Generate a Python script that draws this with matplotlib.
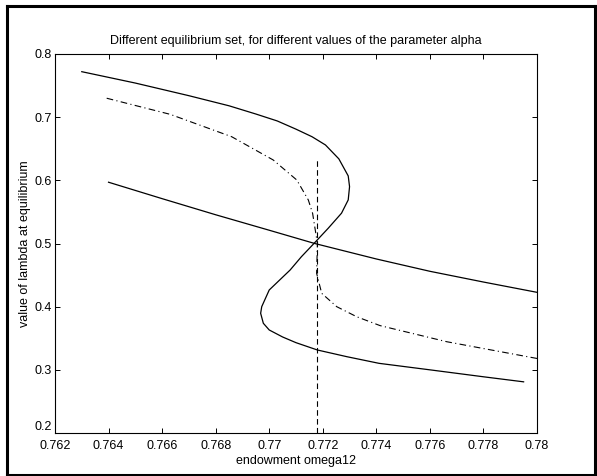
import numpy as np
import matplotlib
matplotlib.use("Agg")
import matplotlib.pyplot as plt
from matplotlib.lines import Line2D

plt.rcParams['font.family'] = ['Liberation Sans', 'DejaVu Sans']

# S-shaped equilibrium set (solid)
s_omega = [0.7630, 0.7650, 0.7670, 0.7685, 0.7695, 0.7703, 0.7710, 0.7716, 0.7721,
           0.7726, 0.77295, 0.7730, 0.77295, 0.7727, 0.7722, 0.77167, 0.7712,
           0.77078, 0.7700, 0.76972, 0.76968, 0.76978, 0.7700, 0.7705, 0.7710,
           0.7718, 0.7729, 0.7741, 0.7760, 0.7780, 0.7795]
s_lambda = [0.772, 0.754, 0.734, 0.718, 0.705, 0.694, 0.681, 0.669, 0.656,
            0.634, 0.607, 0.590, 0.569, 0.548, 0.524, 0.500, 0.479,
            0.458, 0.4264, 0.400, 0.3895, 0.3737, 0.3631, 0.352, 0.343,
            0.3314, 0.3208, 0.3103, 0.300, 0.289, 0.281]

# nearly straight equilibrium set (solid)
b_omega = [0.764, 0.766, 0.768, 0.770, 0.7717, 0.774, 0.776, 0.778, 0.780]
b_lambda = [0.597, 0.571, 0.5455, 0.521, 0.500, 0.4755, 0.456, 0.439, 0.4227]

# intermediate alpha (dash-dot)
c_omega = [0.76393, 0.7663, 0.7686, 0.77015, 0.77103, 0.77146, 0.77162, 0.7718,
           0.77177, 0.77196, 0.77252, 0.77327, 0.77414, 0.77663, 0.7800]
c_lambda = [0.730, 0.7045, 0.669, 0.6322, 0.6005, 0.5689, 0.5478, 0.500,
            0.4528, 0.4211, 0.400, 0.384, 0.370, 0.3445, 0.318]

# vertical set (dashed)
d_omega = [0.7718, 0.7718]
d_lambda = [0.2, 0.632]

xticks = [0.762, 0.764, 0.766, 0.768, 0.77, 0.772, 0.774, 0.776, 0.778, 0.78]
xlabels = ['0.762', '0.764', '0.766', '0.768', '0.77', '0.772', '0.774', '0.776', '0.778', '0.78']
yticks = [0.2, 0.3, 0.4, 0.5, 0.6, 0.7, 0.8]
ylabels = ['0.2', '0.3', '0.4', '0.5', '0.6', '0.7', '0.8']

fig = plt.figure(figsize=(5.97, 4.76), dpi=100)
ax = fig.add_axes([55/597, 43/476, 482/597, 379/476])

ax.plot(s_omega, s_lambda, color='black', lw=0.9)
ax.plot(b_omega, b_lambda, color='black', lw=0.9)
ax.plot(c_omega, c_lambda, color='black', lw=0.8, dashes=(6, 3, 1, 3))
ax.plot(d_omega, d_lambda, color='black', lw=0.8, dashes=(5, 3))

ax.set_xlim(0.762, 0.78)
ax.set_ylim(0.2, 0.8)
ax.set_xticks(xticks)
ax.set_xticklabels(xlabels)
ax.set_yticks(yticks)
ax.set_yticklabels(ylabels)
ax.tick_params(direction='in', length=3.5, width=0.7, labelsize=9, top=True, right=True)
ax.tick_params(axis='x', pad=5)
ax.tick_params(axis='y', pad=2)
# lift the lowest y label a bit, as in the reference
ax.get_yticklabels()[0].set_verticalalignment('bottom')
for sp in ax.spines.values():
    sp.set_linewidth(0.8)

ax.set_title('Different equilibrium set, for different values of the parameter alpha', fontsize=9, pad=7)
ax.set_xlabel('endowment omega12', fontsize=9, labelpad=2)
ax.set_ylabel('value of lambda at equilibrium', fontsize=9, labelpad=3)

# outer frame of the figure
fw = 2.2
fig.add_artist(Line2D([7/597, 7/597], [1/476, 470/476], transform=fig.transFigure, color='black', lw=fw))
fig.add_artist(Line2D([7/597, 595/597], [470/476, 470/476], transform=fig.transFigure, color='black', lw=fw))
fig.add_artist(Line2D([7/597, 595/597], [1.5/476, 1.5/476], transform=fig.transFigure, color='black', lw=fw))
fig.add_artist(Line2D([595/597, 595/597], [1/476, 470/476], transform=fig.transFigure, color='black', lw=fw))

fig.savefig('out.png', dpi=100)
